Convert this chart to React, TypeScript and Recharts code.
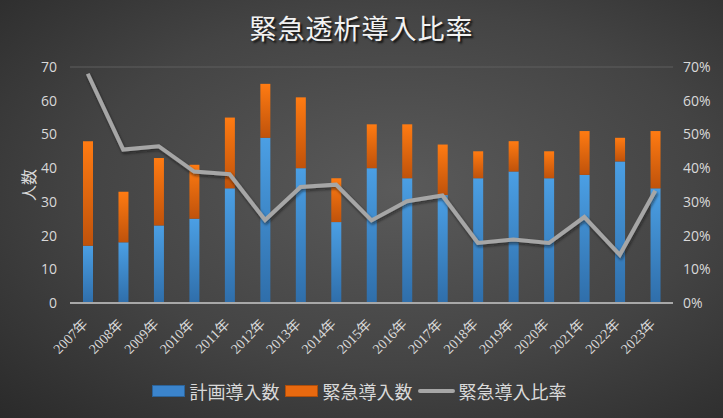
import { ComposedChart, Bar, Line, XAxis, YAxis, CartesianGrid } from "recharts";

const years = [
  "2007年", "2008年", "2009年", "2010年", "2011年", "2012年", "2013年", "2014年", "2015年",
  "2016年", "2017年", "2018年", "2019年", "2020年", "2021年", "2022年", "2023年",
];
const planned = [17, 18, 23, 25, 34, 49, 40, 24, 40, 37, 32, 37, 39, 37, 38, 42, 34];
const emergency = [31, 15, 20, 16, 21, 16, 21, 13, 13, 16, 15, 8, 9, 8, 13, 7, 17];
const ratio = [
  0.68, 0.455, 0.465, 0.39, 0.382, 0.246, 0.344, 0.351, 0.245, 0.302, 0.319, 0.178, 0.188,
  0.178, 0.255, 0.143, 0.333,
];
const countTicks = [0, 10, 20, 30, 40, 50, 60, 70];
const pctTicks = [0, 0.1, 0.2, 0.3, 0.4, 0.5, 0.6, 0.7];

const data = years.map((y, i) => ({
  year: y,
  planned: planned[i],
  emergency: emergency[i],
  ratio: ratio[i],
}));

const labelColor = "#d9d9d9";
const numFont = "'Open Sans', 'DejaVu Sans', sans-serif";
const cjkFont = "'Noto Sans CJK JP', sans-serif";

function YearTick(props: any) {
  const { x, y, payload } = props;
  const ax = x + 1;
  const ay = y + 14;
  return (
    <text
      x={ax}
      y={ay}
      transform={`rotate(-45, ${ax}, ${ay})`}
      textAnchor="end"
      fill={labelColor}
      fontSize={14}
      fontFamily="'Liberation Serif', 'Noto Sans CJK JP', serif"
    >
      {payload.value}
    </text>
  );
}

const legendItems = [
  { name: "計画導入数", kind: "bar", color: "#3b84cc" },
  { name: "緊急導入数", kind: "bar", color: "#e8690f" },
  { name: "緊急導入比率", kind: "line", color: "#a6a6a6" },
];

export default function App() {
  return (
    <div
      style={{
        position: "absolute",
        left: 0,
        top: 0,
        width: 723,
        height: 418,
        background: "radial-gradient(ellipse at 55% 45%, #5a5a5a 0%, #444 55%, #2a2a2a 100%)",
        overflow: "hidden",
      }}
    >
      <div
        style={{
          position: "absolute",
          left: 0,
          width: 723,
          top: 8,
          textAlign: "center",
          color: "#f2f2f2",
          fontSize: 27,
          fontFamily: "'Noto Sans CJK JP', serif",
          textShadow: "2px 2px 2px #111",
          letterSpacing: 1,
        }}
      >
        緊急透析導入比率
      </div>
      <div
        style={{
          position: "absolute",
          left: 12,
          top: 175,
          width: 32,
          height: 20,
          textAlign: "center",
          color: labelColor,
          fontSize: 16,
          fontFamily: cjkFont,
          transform: "rotate(-90deg)",
          lineHeight: "20px",
          whiteSpace: "nowrap",
        }}
      >
        人数
      </div>
      <ComposedChart
        width={723}
        height={418}
        data={data}
        margin={{ top: 67, right: 0, left: 0, bottom: 55 }}
        barSize={10}
      >
        <defs>
          <linearGradient id="blueGrad" x1="0" y1="0" x2="0" y2="1">
            <stop offset="0%" stopColor="#4b9fe4" />
            <stop offset="100%" stopColor="#2f6eaa" />
          </linearGradient>
          <linearGradient id="orangeGrad" x1="0" y1="0" x2="0" y2="1">
            <stop offset="0%" stopColor="#ff7b12" />
            <stop offset="100%" stopColor="#bf520b" />
          </linearGradient>
          <filter id="lineShadow" x="-10%" y="-10%" width="120%" height="130%">
            <feDropShadow dx="1" dy="2" stdDeviation="1.5" floodColor="#111" floodOpacity="0.6" />
          </filter>
        </defs>
        <CartesianGrid vertical={false} stroke="#5e5e5e" strokeWidth={1} />
        <XAxis
          dataKey="year"
          interval={0}
          height={60}
          tick={<YearTick />}
          tickLine={false}
          axisLine={{ stroke: "#a8a8a8", strokeWidth: 2 }}
        />
        <YAxis
          yAxisId="left"
          domain={[0, 70]}
          ticks={countTicks}
          width={70}
          tickSize={0}
          tickMargin={13}
          axisLine={false}
          tickLine={false}
          tick={{ fill: labelColor, fontSize: 14, fontFamily: numFont }}
        />
        <YAxis
          yAxisId="right"
          orientation="right"
          domain={[0, 0.7]}
          ticks={pctTicks}
          width={50}
          tickSize={0}
          tickMargin={10}
          axisLine={false}
          tickLine={false}
          tickFormatter={(v) => `${Math.round(v * 100)}%`}
          tick={{ fill: labelColor, fontSize: 14, fontFamily: numFont }}
        />
        <Bar yAxisId="left" dataKey="planned" stackId="a" fill="url(#blueGrad)" isAnimationActive={false} />
        <Bar yAxisId="left" dataKey="emergency" stackId="a" fill="url(#orangeGrad)" isAnimationActive={false} />
        <Line
          yAxisId="right"
          dataKey="ratio"
          type="linear"
          stroke="#a6a6a6"
          strokeWidth={4}
          dot={false}
          activeDot={false}
          filter="url(#lineShadow)"
          isAnimationActive={false}
        />
      </ComposedChart>
      <div
        style={{
          position: "absolute",
          left: 0,
          width: 723,
          top: 378,
          display: "flex",
          justifyContent: "center",
          alignItems: "center",
          fontFamily: cjkFont,
          fontSize: 18,
          color: labelColor,
        }}
      >
        {legendItems.map((it) => (
          <div key={it.name} style={{ display: "flex", alignItems: "center", marginRight: 5 }}>
            {it.kind === "bar" ? (
              <div
                style={{
                  width: 33,
                  height: 12,
                  background: it.color,
                  boxShadow: "inset 0 0 0 1px rgba(0,0,0,0.25)",
                  marginRight: 5,
                }}
              />
            ) : (
              <div
                style={{ width: 37, height: 4, borderRadius: 2, background: it.color, marginRight: 4 }}
              />
            )}
            <span>{it.name}</span>
          </div>
        ))}
      </div>
    </div>
  );
}
